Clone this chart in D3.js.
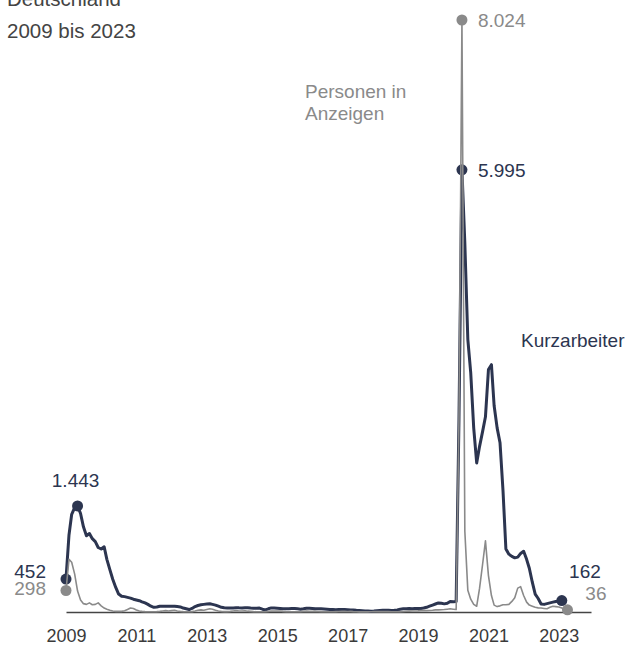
<!DOCTYPE html>
<html>
<head>
<meta charset="utf-8">
<script src="https://cdn.jsdelivr.net/npm/d3@7"></script>
<style>
  body { margin: 0; background: #fff; }
  svg { display: block; font-family: "Liberation Sans", Arial, sans-serif; }
</style>
</head>
<body>
<svg id="chart" width="628" height="646"></svg>
<script>
// monthly values in thousands, starting January 2009
const kurzarbeiter = [
  452, 1050, 1330, 1420, 1443, 1340, 1160, 1040, 1070, 1000, 960, 880,   // 2009
  860, 890, 720, 580, 450, 340, 250, 220, 215, 205, 195, 180,            // 2010
  170, 160, 145, 130, 110, 85, 70, 75, 85, 85, 85, 85,                   // 2011
  85, 85, 80, 75, 60, 50, 40, 55, 80, 95, 105, 110,                      // 2012
  115, 118, 110, 100, 85, 70, 63, 60, 60, 62, 65, 63,                    // 2013
  62, 65, 63, 60, 58, 58, 60, 45, 35, 50, 62, 60,                        // 2014
  58, 55, 50, 50, 52, 55, 55, 50, 45, 50, 58, 58,                        // 2015
  55, 52, 50, 50, 48, 45, 42, 40, 38, 40, 42, 40,                        // 2016
  38, 35, 33, 30, 28, 25, 22, 20, 18, 20, 25, 28,                        // 2017
  30, 32, 30, 28, 30, 35, 45, 50, 52, 55, 50, 55,                        // 2018
  55, 55, 60, 70, 85, 100, 115, 130, 125, 117, 125, 150,                 // 2019
  145, 150, 2600, 5995, 5000, 3700, 3250, 2500, 2026, 2250, 2450, 2650,  // 2020
  3290, 3356, 2800, 2500, 2300, 1650, 860, 790, 760, 740, 750, 800,      // 2021
  830, 720, 600, 410, 250, 190, 115, 110, 120, 130, 140, 150,            // 2022
  155, 162                                                               // 2023
];

const anzeigen = [
  298, 720, 680, 520, 290, 170, 120, 110, 130, 105, 110, 130,            // 2009
  90, 60, 45, 30, 20, 15, 15, 15, 25, 40, 60, 55,                        // 2010
  35, 20, 15, 12, 10, 10, 10, 12, 15, 20, 25, 20,                        // 2011
  25, 30, 20, 15, 12, 10, 10, 12, 20, 30, 35, 30,                        // 2012
  40, 50, 45, 30, 20, 15, 12, 12, 15, 20, 25, 20,                        // 2013
  20, 22, 18, 15, 12, 10, 10, 10, 12, 15, 20, 18,                        // 2014
  18, 20, 15, 12, 10, 10, 10, 10, 12, 15, 18, 15,                        // 2015
  15, 18, 14, 12, 10, 10, 10, 10, 12, 14, 16, 15,                        // 2016
  14, 15, 12, 10, 8, 8, 8, 8, 10, 12, 14, 12,                            // 2017
  12, 14, 12, 10, 10, 10, 12, 14, 16, 18, 20, 20,                        // 2018
  22, 25, 25, 25, 28, 30, 35, 35, 38, 40, 45, 50,                        // 2019
  45, 40, 2600, 8024, 1100, 300, 180, 110, 85, 330, 650, 970,            // 2020
  500, 230, 100, 80, 90, 105, 105, 110, 150, 200, 330, 350,              // 2021
  230, 140, 100, 85, 70, 63, 60, 55, 50, 70, 85, 80,                     // 2022
  75, 60, 45, 36                                                         // 2023
];

const tickYears = [2009, 2011, 2013, 2015, 2017, 2019, 2021, 2023];

// which points get a dot and a value label
const kurzMarks = [0, 4, 135, kurzarbeiter.length - 1];
const anzMarks = [0, 135, anzeigen.length - 1];

const navy = "#2c3550";
const grey = "#8a8a8a";

const svg = d3.select("#chart");
const deFormat = d3.formatLocale({decimal: ",", thousands: ".", grouping: [3], currency: ["", " €"]}).format(",d");

const monthDate = i => new Date(Date.UTC(2009, i, 1));

const x = d3.scaleUtc()
  .domain([new Date(Date.UTC(2009, 0, 1)), new Date(Date.UTC(2023, 11, 1))])
  .range([66, 591]);

const y = d3.scaleLinear()
  .domain([0, 8024])
  .range([612.5, 20]);

// title
svg.append("text").attr("x", 7).attr("y", 6)
  .attr("font-size", 20.5).attr("fill", "#444").text("Deutschland");
svg.append("text").attr("x", 7).attr("y", 38)
  .attr("font-size", 20.5).attr("fill", "#444").text("2009 bis 2023");

// x axis
const xAxis = svg.append("g")
  .attr("transform", "translate(0,612)")
  .call(d3.axisBottom(x)
    .tickValues(tickYears.map(yr => new Date(Date.UTC(yr, 0, 1))))
    .tickFormat(d3.utcFormat("%Y"))
    .tickSize(0)
    .tickPadding(17));
xAxis.select(".domain").attr("stroke", "#444").attr("stroke-width", 1.5);
xAxis.selectAll("text").attr("font-size", 18).attr("fill", "#3a3a3a")
  .attr("font-family", "Liberation Sans, Arial, sans-serif");

const line = d3.line()
  .x((d, i) => x(monthDate(i)))
  .y(d => y(d));

// Kurzarbeiter
svg.append("path").datum(kurzarbeiter)
  .attr("fill", "none").attr("stroke", navy)
  .attr("stroke-width", 3).attr("stroke-linejoin", "round")
  .attr("d", line);

svg.selectAll(".kdot").data(kurzMarks).join("circle")
  .attr("class", "kdot")
  .attr("cx", i => x(monthDate(i)))
  .attr("cy", i => y(kurzarbeiter[i]))
  .attr("r", 5.5).attr("fill", navy);

// Personen in Anzeigen
svg.append("path").datum(anzeigen)
  .attr("fill", "none").attr("stroke", grey)
  .attr("stroke-width", 1.6).attr("stroke-linejoin", "round")
  .attr("d", line);

svg.selectAll(".adot").data(anzMarks).join("circle")
  .attr("class", "adot")
  .attr("cx", i => x(monthDate(i)))
  .attr("cy", i => y(anzeigen[i]))
  .attr("r", 5.5).attr("fill", grey);

// value labels: offsets from the dot
const kurzLabelPos = [
  {dx: -20, dy: -1, anchor: "end"},
  {dx: -2, dy: -19, anchor: "middle"},
  {dx: 16, dy: 7, anchor: "start"},
  {dx: 39, dy: -23, anchor: "end"}
];
const anzLabelPos = [
  {dx: -20, dy: 5, anchor: "end"},
  {dx: 16, dy: 7, anchor: "start"},
  {dx: 39, dy: -10, anchor: "end"}
];

svg.selectAll(".klab").data(kurzMarks).join("text")
  .attr("class", "klab")
  .attr("x", (i, k) => x(monthDate(i)) + kurzLabelPos[k].dx)
  .attr("y", (i, k) => y(kurzarbeiter[i]) + kurzLabelPos[k].dy)
  .attr("text-anchor", (i, k) => kurzLabelPos[k].anchor)
  .attr("font-size", 19).attr("fill", navy)
  .text(i => deFormat(kurzarbeiter[i]));

svg.selectAll(".alab").data(anzMarks).join("text")
  .attr("class", "alab")
  .attr("x", (i, k) => x(monthDate(i)) + anzLabelPos[k].dx)
  .attr("y", (i, k) => y(anzeigen[i]) + anzLabelPos[k].dy)
  .attr("text-anchor", (i, k) => anzLabelPos[k].anchor)
  .attr("font-size", 19).attr("fill", grey)
  .text(i => deFormat(anzeigen[i]));

// series names
const anzName = svg.append("text").attr("x", 305).attr("y", 98)
  .attr("font-size", 19).attr("fill", grey);
anzName.append("tspan").attr("x", 305).text("Personen in");
anzName.append("tspan").attr("x", 305).attr("dy", 22).text("Anzeigen");

svg.append("text").attr("x", 521).attr("y", 347)
  .attr("font-size", 19).attr("fill", navy).text("Kurzarbeiter");
</script>
</body>
</html>
